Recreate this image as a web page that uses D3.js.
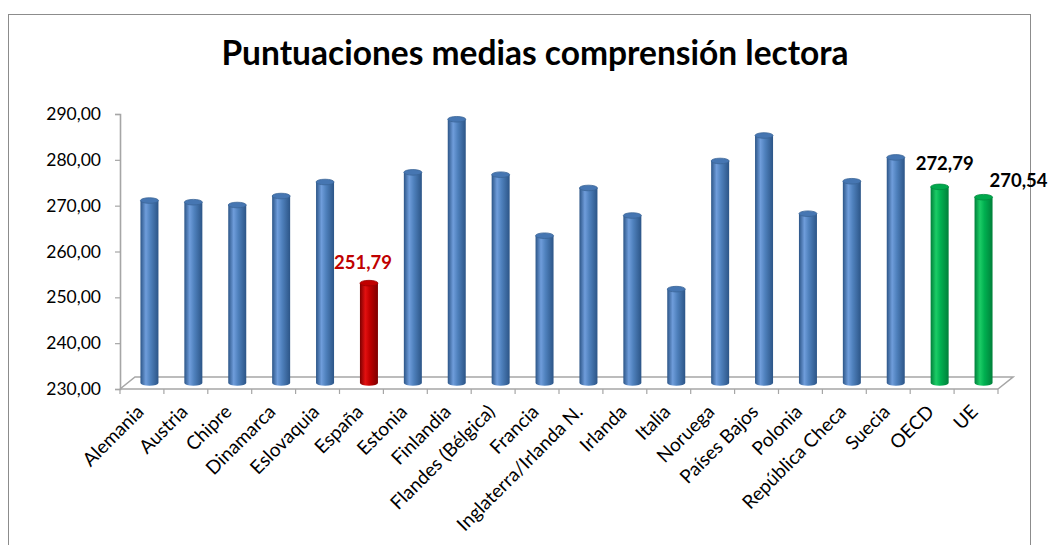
<!DOCTYPE html>
<html>
<head>
<meta charset="utf-8">
<script src="https://cdn.jsdelivr.net/npm/d3@7"></script>
<style>
  html, body { margin: 0; padding: 0; background: #fff; }
  svg { display: block; font-family: Lato, "Open Sans", sans-serif; }
</style>
</head>
<body>
<svg id="chart" width="1050" height="545"></svg>
<script>
// Mean literacy scores by country (PIAAC)
const categories = ["Alemania", "Austria", "Chipre", "Dinamarca", "Eslovaquia", "España",
  "Estonia", "Finlandia", "Flandes (Bélgica)", "Francia", "Inglaterra/Irlanda N.",
  "Irlanda", "Italia", "Noruega", "Países Bajos", "Polonia", "República Checa",
  "Suecia", "OECD", "UE"];
const scores = [269.81, 269.45, 268.83, 270.79, 273.85, 251.79,
  275.96, 287.54, 275.45, 262.14, 272.55,
  266.54, 250.48, 278.44, 284.00, 266.94, 274.02,
  279.22, 272.79, 270.54];
// colour group for each bar
const groups = ["pais", "pais", "pais", "pais", "pais", "espana",
  "pais", "pais", "pais", "pais", "pais",
  "pais", "pais", "pais", "pais", "pais", "pais",
  "pais", "media", "media"];
const yTicks = [230, 240, 250, 260, 270, 280, 290];
const labelled = ["España", "OECD", "UE"];
const title = "Puntuaciones medias comprensión lectora";

const svg = d3.select("#chart");
const fmt = v => d3.format(".2f")(v).replace(".", ",");

// outer chart frame
svg.append("rect").attr("x", 8.5).attr("y", 14.5).attr("width", 1022).attr("height", 560)
  .attr("fill", "none").attr("stroke", "#8c8c8c").attr("stroke-width", 1);

svg.append("text").attr("x", 535).attr("y", 65).attr("text-anchor", "middle")
  .attr("font-size", 33.5).attr("font-weight", 700).attr("fill", "#000").text(title);

// plot geometry: front plane plus an oblique depth offset
const x0 = 120, x1 = 998;
const depth = { dx: 15, dy: -12 };
const y = d3.scaleLinear().domain([230, 290]).range([389, 114]);
const x = d3.scaleBand().domain(categories).range([x0, x1]).paddingInner(0).paddingOuter(0);
const bw = x.bandwidth();
const rx = 9, ry = 2.8;
const mid = { dx: depth.dx / 2, dy: depth.dy / 2 };

// gradients for the cylinders
const defs = svg.append("defs");
const palettes = {
  pais:   { dark: "#2c5587", mid: "#4f81bd", light: "#6f9ddb", cap: "#4676b2", capEdge: "#3a6497" },
  espana: { dark: "#7d0000", mid: "#c00000", light: "#e21010", cap: "#c00000", capEdge: "#9a0000" },
  media:  { dark: "#00803a", mid: "#00b050", light: "#1ccc66", cap: "#00a84c", capEdge: "#008a3e" }
};
Object.entries(palettes).forEach(([k, p]) => {
  const g = defs.append("linearGradient").attr("id", "g-" + k)
    .attr("x1", "0%").attr("x2", "100%").attr("y1", "0%").attr("y2", "0%");
  g.append("stop").attr("offset", "0%").attr("stop-color", p.dark);
  g.append("stop").attr("offset", "30%").attr("stop-color", p.light);
  g.append("stop").attr("offset", "55%").attr("stop-color", p.mid);
  g.append("stop").attr("offset", "100%").attr("stop-color", p.dark);
});

// floor: back edge and side edges
const floorY = y(230);
svg.append("path")
  .attr("d", `M${x0},${floorY} L${x0 + depth.dx},${floorY + depth.dy} L${x1 + depth.dx},${floorY + depth.dy} L${x1},${floorY}`)
  .attr("fill", "none").attr("stroke", "#a6a6a6").attr("stroke-width", 1.6);

// y axis
const yAxis = d3.axisLeft(y).tickValues(yTicks).tickSize(5).tickFormat(fmt);
const ya = svg.append("g").attr("transform", `translate(${x0},0)`).call(yAxis);
ya.select(".domain").attr("stroke", "#a6a6a6").attr("stroke-width", 1.6);
ya.selectAll(".tick line").attr("stroke", "#a6a6a6").attr("stroke-width", 1.2);
ya.selectAll(".tick text").attr("font-size", 17.5).attr("fill", "#000")
  .attr("x", -19).attr("font-family", "Lato, sans-serif");

// x axis with tick marks at category boundaries
const xa = svg.append("g").attr("transform", `translate(0,${floorY})`);
xa.append("line").attr("x1", x0).attr("x2", x1).attr("y1", 0).attr("y2", 0)
  .attr("stroke", "#a6a6a6").attr("stroke-width", 1.6);
xa.selectAll("line.tk").data(categories.concat(["__end"])).join("line").attr("class", "tk")
  .attr("x1", (d, i) => x0 + i * bw).attr("x2", (d, i) => x0 + i * bw)
  .attr("y1", 0).attr("y2", 5).attr("stroke", "#a6a6a6").attr("stroke-width", 1.2);
xa.selectAll("text").data(categories).join("text")
  .attr("text-anchor", "end").attr("font-size", 19).attr("fill", "#000")
  .attr("transform", d => `translate(${x(d) + bw / 2 + 3},${24}) rotate(-45)`)
  .text(d => d);

// cylinders
const data = categories.map((c, i) => ({ c, v: scores[i], g: groups[i] }));
const bars = svg.append("g").selectAll("g").data(data).join("g");
bars.each(function (d) {
  const g = d3.select(this);
  const p = palettes[d.g];
  const cx = x(d.c) + bw / 2 + mid.dx;
  const yb = y(230) + mid.dy;
  const yt = y(d.v) + mid.dy;
  g.append("path")
    .attr("d", `M${cx - rx},${yt} L${cx - rx},${yb} A${rx},${ry} 0 0 0 ${cx + rx},${yb} L${cx + rx},${yt} Z`)
    .attr("fill", `url(#g-${d.g})`);
  g.append("ellipse").attr("cx", cx).attr("cy", yt).attr("rx", rx).attr("ry", ry)
    .attr("fill", p.cap).attr("stroke", p.capEdge).attr("stroke-width", 0.8);
});

// value labels
const labelStyle = {
  "España": { dx: -6, dy: -14, color: "#c00000" },
  "OECD":   { dx: 5,  dy: -17, color: "#000" },
  "UE":     { dx: 35, dy: -10, color: "#000" }
};
svg.append("g").selectAll("text").data(data.filter(d => labelled.includes(d.c))).join("text")
  .attr("x", d => x(d.c) + bw / 2 + mid.dx + labelStyle[d.c].dx)
  .attr("y", d => y(d.v) + mid.dy + labelStyle[d.c].dy)
  .attr("text-anchor", "middle").attr("font-size", 18.5).attr("font-weight", 700)
  .attr("fill", d => labelStyle[d.c].color)
  .text(d => fmt(d.v));
</script>
</body>
</html>
